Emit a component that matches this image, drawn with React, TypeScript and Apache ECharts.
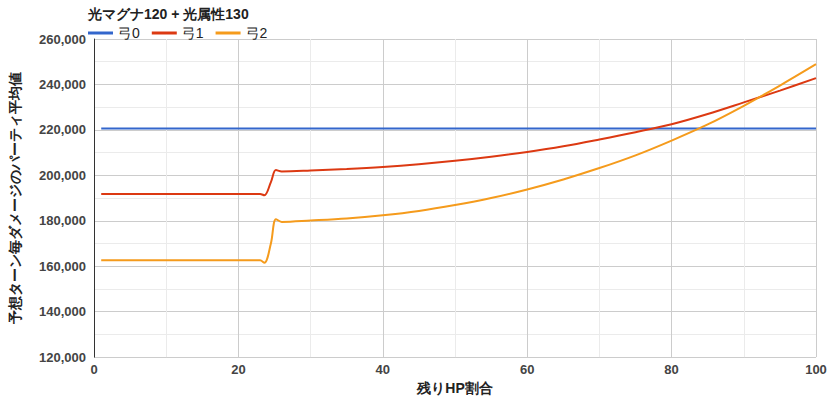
import React, { useEffect, useRef } from "react";
import * as echarts from "echarts";

const titleText = "光マグナ120 + 光属性130";
const seriesNames = ["弓0", "弓1", "弓2"];
const xValues = [1, 5, 10, 15, 20, 23, 23.6, 24.5, 25.2, 26, 30, 35, 40, 45, 50, 55, 60, 65, 70, 75, 80, 85, 90, 95, 100];
const bow0 = [220600, 220600, 220600, 220600, 220600, 220600, 220600, 220600, 220600, 220600, 220600, 220600, 220600, 220600, 220600, 220600, 220600, 220600, 220600, 220600, 220600, 220600, 220600, 220600, 220600];
const bow1 = [191800, 191800, 191800, 191800, 191800, 191800, 191200, 197000, 202300, 201700, 202100, 202800, 203700, 204900, 206400, 208200, 210300, 212800, 215800, 219000, 222500, 227000, 232100, 237300, 242800];
const bow2 = [162600, 162600, 162600, 162600, 162600, 162600, 161500, 170000, 180700, 179500, 180100, 181000, 182400, 184300, 186900, 190000, 193800, 198200, 203200, 208800, 215300, 222400, 230600, 239500, 248900];
const colors = ["#3366cc", "#dc3912", "#f59b1c"];
const xAxisName = "残りHP割合";
const yAxisName = "予想ターン毎ダメージのパーティ平均値";

export default function App() {
  const ref = useRef<HTMLDivElement>(null);
  useEffect(() => {
    if (!ref.current) return;
    const chart = echarts.init(ref.current, null, { renderer: "svg" });
    const font = "'Liberation Sans', Arial, sans-serif";
    const allSeries = [bow0, bow1, bow2];
    chart.setOption({
      animation: false,
      textStyle: { fontFamily: font },
      title: {
        text: titleText,
        left: 83,
        top: 2,
        textStyle: { fontSize: 14, fontWeight: "bold", color: "#222", fontFamily: font },
      },
      legend: {
        left: 83,
        top: 21,
        itemWidth: 25,
        itemHeight: 3,
        itemGap: 12,
        icon: "rect",
        textStyle: { fontSize: 14, color: "#222", fontFamily: font },
        data: seriesNames,
      },
      grid: { left: 89, right: 20, top: 39, bottom: 42 },
      xAxis: {
        type: "value",
        min: 0,
        max: 100,
        interval: 20,
        name: xAxisName,
        nameLocation: "middle",
        nameGap: 22,
        nameTextStyle: { fontSize: 14, fontWeight: "bold", color: "#222", fontFamily: font },
        axisLine: { show: false },
        axisTick: { show: false },
        axisLabel: { fontSize: 13, fontWeight: "bold", color: "#444", margin: 6, fontFamily: font },
        splitLine: { show: true, lineStyle: { color: "#cccccc", width: 1 } },
        minorTick: { show: false, splitNumber: 2 },
        minorSplitLine: { show: true, lineStyle: { color: "#ebebeb", width: 1 } },
      },
      yAxis: {
        type: "value",
        min: 120000,
        max: 260000,
        interval: 20000,
        name: yAxisName,
        nameLocation: "middle",
        nameGap: 72,
        nameRotate: 90,
        nameTextStyle: { fontSize: 14, fontWeight: "bold", color: "#222", fontFamily: font },
        axisLine: { show: true, lineStyle: { color: "#333", width: 1 } },
        axisTick: { show: false },
        axisLabel: {
          fontSize: 13,
          fontWeight: "bold",
          color: "#444",
          margin: 8,
          fontFamily: font,
          formatter: (v: number) => v.toLocaleString("en-US"),
        },
        splitLine: { show: true, lineStyle: { color: "#cccccc", width: 1 } },
        minorTick: { show: false, splitNumber: 2 },
        minorSplitLine: { show: true, lineStyle: { color: "#ebebeb", width: 1 } },
      },
      series: allSeries.map((vals, i) => ({
        name: seriesNames[i],
        type: "line",
        smooth: 0.35,
        symbol: "none",
        color: colors[i],
        lineStyle: { width: 2, color: colors[i] },
        data: xValues.map((x, j) => [x, vals[j]]),
      })),
    });
    return () => chart.dispose();
  }, []);
  return <div ref={ref} style={{ width: 836, height: 400, position: "absolute", left: 0, top: 0 }} />;
}
